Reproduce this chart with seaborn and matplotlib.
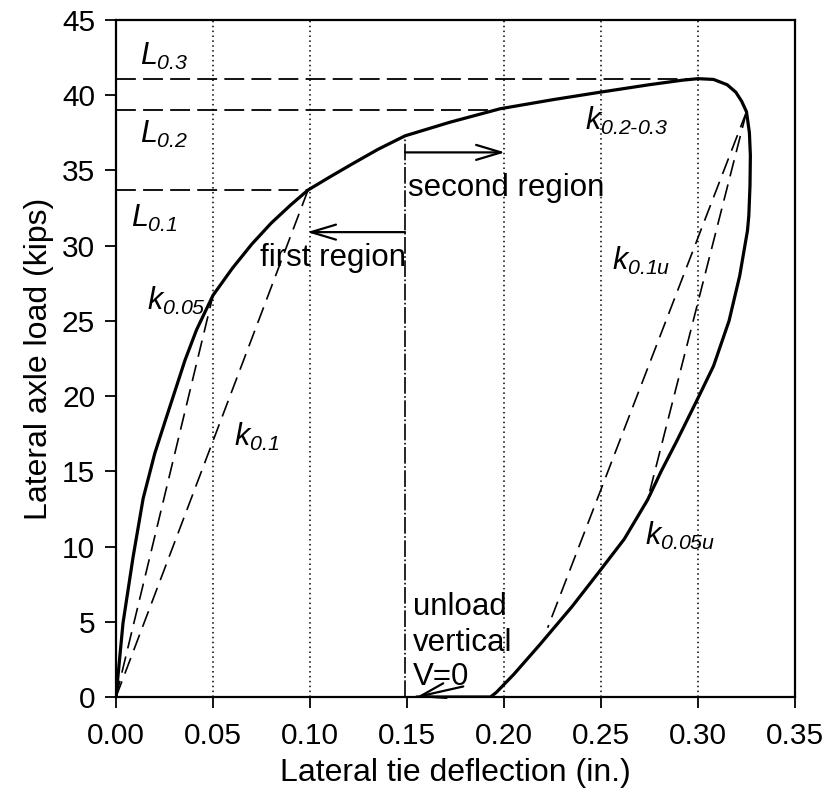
import matplotlib
matplotlib.use("Agg")
import matplotlib.pyplot as plt
import pandas as pd
import seaborn as sns

# loading branch of the load-deflection curve
load_x = [0.0, 0.0036, 0.0088, 0.014, 0.020, 0.026, 0.0356, 0.0415, 0.050, 0.060, 0.070,
          0.080, 0.090, 0.099, 0.110, 0.122, 0.135, 0.149, 0.172, 0.198, 0.225, 0.2495,
          0.275, 0.292, 0.300, 0.308, 0.315, 0.3195, 0.3225, 0.325]
load_y = [0.0, 4.9, 9.3, 13.2, 16.2, 18.6, 22.4, 24.4, 26.7, 28.5, 30.1,
          31.5, 32.7, 33.7, 34.55, 35.45, 36.4, 37.3, 38.2, 39.1, 39.7, 40.2,
          40.7, 41.0, 41.1, 41.05, 40.7, 40.2, 39.6, 38.9]

# unloading branch
unload_x = [0.325, 0.3265, 0.327, 0.3268, 0.3262, 0.3255, 0.3215, 0.316, 0.308, 0.3005,
            0.289, 0.281, 0.274, 0.262, 0.2495, 0.235, 0.2186, 0.205, 0.196, 0.193, 0.155]
unload_y = [38.9, 37.5, 36.0, 34.0, 32.0, 31.0, 28.0, 25.0, 22.0, 20.0,
            17.0, 15.0, 13.1, 10.5, 8.4, 6.0, 3.5, 1.5, 0.3, 0.0, 0.0]

# secant stiffness lines: (x0, y0, x1, y1)
secants = {
    "k0.05": (0.0, 0.0, 0.050, 26.7),
    "k0.1": (0.0, 0.0, 0.099, 33.7),
    "k0.05u": (0.325, 38.9, 0.274, 13.1),
    "k0.1u": (0.325, 38.9, 0.2225, 4.6),
}

# load levels at 0.1, 0.2, 0.3 in. (level, x end)
levels = {"L0.1": (33.7, 0.099), "L0.2": (39.0, 0.197), "L0.3": (41.1, 0.300)}

grid_x = [0.05, 0.10, 0.20, 0.25, 0.30]
x_ticks = [0.00, 0.05, 0.10, 0.15, 0.20, 0.25, 0.30, 0.35]
y_ticks = [0, 5, 10, 15, 20, 25, 30, 35, 40, 45]

sns.set_theme(style="white")
plt.rcParams["font.family"] = ["Liberation Sans", "DejaVu Sans"]
plt.rcParams["text.color"] = "black"
plt.rcParams["axes.labelcolor"] = "black"
# the k / L labels are fully italic, subscripts included
plt.rcParams["mathtext.fontset"] = "custom"
plt.rcParams["mathtext.it"] = "Liberation Sans:italic"
plt.rcParams["mathtext.rm"] = "Liberation Sans:italic"
plt.rcParams["mathtext.default"] = "it"

fig = plt.figure(figsize=(8.3, 8.05), dpi=100)
ax = fig.add_axes([116 / 830, 108 / 805, 679 / 830, 677 / 805])

for gx in grid_x:
    ax.axvline(gx, color="black", linestyle=(0, (1, 2.2)), linewidth=1.1, zorder=1)

# dash-dot divider at 0.15
ax.plot([0.149, 0.149], [0, 37.3], color="black", linestyle=(0, (10, 1.5, 1, 1.5)),
        linewidth=1.2, zorder=2)

for name, (lv, xe) in levels.items():
    ax.plot([0, xe], [lv, lv], color="black", linestyle=(0, (11, 4)), linewidth=1.3, zorder=2)

for name, (x0, y0, x1, y1) in secants.items():
    ax.plot([x0, x1], [y0, y1], color="black", linestyle=(0, (10, 5)), linewidth=1.2, zorder=2)

curve = pd.DataFrame({"x": load_x + unload_x[1:], "y": load_y + unload_y[1:]})
sns.lineplot(data=curve, x="x", y="y", sort=False, color="black", linewidth=2.3,
             estimator=None, ax=ax, zorder=3)

# region arrows
arrow = dict(arrowstyle="->,head_length=1.5,head_width=0.45", color="black", lw=1.6,
             shrinkA=0, shrinkB=0)
ax.annotate("", xy=(0.2005, 36.2), xytext=(0.149, 36.2), arrowprops=arrow)
ax.annotate("", xy=(0.0985, 30.9), xytext=(0.149, 30.9), arrowprops=arrow)
ax.annotate("", xy=(0.155, 0.0), xytext=(0.179, 0.7), arrowprops=arrow)

fs = 22.5
ax.text(0.1505, 33.8, "second region", fontsize=fs, va="center", ha="left")
ax.text(0.074, 29.2, "first region", fontsize=fs, va="center", ha="left")
ax.text(0.153, 6.0, "unload", fontsize=fs, va="center", ha="left")
ax.text(0.153, 3.6, "vertical", fontsize=fs, va="center", ha="left")
ax.text(0.153, 1.3, "V=0", fontsize=fs, va="center", ha="left")

ks = 22
ax.text(0.0125, 42.6, r"$L_{0.3}$", fontsize=ks, va="center")
ax.text(0.0125, 37.4, r"$L_{0.2}$", fontsize=ks, va="center")
ax.text(0.0075, 31.8, r"$L_{0.1}$", fontsize=ks, va="center")
ax.text(0.016, 26.3, r"$k_{0.05}$", fontsize=ks, va="center")
ax.text(0.061, 17.3, r"$k_{0.1}$", fontsize=ks, va="center")
ax.text(0.2418, 38.3, r"$k_{0.2\text{-}0.3}$", fontsize=ks, va="center")
ax.text(0.2555, 29.0, r"$k_{0.1u}$", fontsize=ks, va="center")
ax.text(0.2727, 10.7, r"$k_{0.05u}$", fontsize=ks, va="center")

ax.set_xlim(0, 0.35)
ax.set_ylim(0, 45)
ax.set_xticks(x_ticks)
ax.set_xticklabels([f"{t:.2f}" for t in x_ticks])
ax.set_yticks(y_ticks)
ax.tick_params(axis="both", direction="out", length=8, width=1.3, labelsize=21.5,
               colors="black", bottom=True, left=True)
ax.tick_params(axis="x", pad=10)
ax.tick_params(axis="y", pad=7)
for s in ax.spines.values():
    s.set_color("black")
    s.set_linewidth(1.6)
ax.set_xlabel("Lateral tie deflection (in.)", fontsize=23, labelpad=6)
ax.set_ylabel("Lateral axle load (kips)", fontsize=23, labelpad=6)
ax.grid(False)

fig.savefig("out.png", dpi=100)
